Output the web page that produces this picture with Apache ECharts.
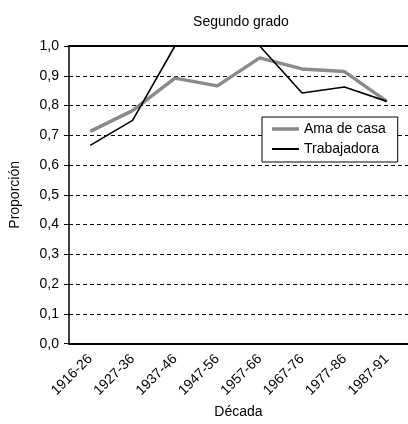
<html>
<head>
<meta charset="utf-8" />
<script src='https://cdn.jsdelivr.net/npm/echarts@6/dist/echarts.min.js'></script>
<style type="text/css">
	html, body, #main {
	width: 100%;
	height: 100%;
	margin: 0;
	background: #fff;
}
</style>
</head>
<body>
	<div id='main'></div>
	<script>
		var decadas = ['1916-26', '1927-36', '1937-46', '1947-56', '1957-66', '1967-76', '1977-86', '1987-91'];
		var amaDeCasa = [0.713, 0.783, 0.892, 0.866, 0.960, 0.923, 0.914, 0.814];
		var trabajadora = [0.666, 0.750, 1.0, 1.0, 1.0, 0.842, 0.862, 0.814];

		var font = 'Liberation Sans, Arial, sans-serif';
		var chart = echarts.init(document.getElementById('main'));

		// legend icons: invisible corner dots keep the box 27x14 so the bar keeps its thickness
		var thickIcon = 'path://M0,0h0.01v0.01h-0.01z M0,5.25h27v3.5h-27z M26.99,13.99h0.01v0.01h-0.01z';
		var thinIcon = 'path://M0,0h0.01v0.01h-0.01z M0,6.1h27v1.8h-27z M26.99,13.99h0.01v0.01h-0.01z';

		var option = {
			animation : false,
			textStyle : { fontFamily : font },
			title : {
				text : 'Segundo grado',
				left : 236,
				textAlign : 'center',
				top : 10,
				textStyle : { fontSize : 14, fontWeight : 'normal', color : '#000', fontFamily : font }
			},
			legend : {
				orient : 'vertical',
				left : 262,
				top : 117,
				width : 139,
				padding : [5, 12, 6, 10],
				itemGap : 6,
				itemWidth : 27,
				itemHeight : 14,
				borderColor : '#000',
				borderWidth : 1,
				borderRadius : 0,
				backgroundColor : '#fff',
				textStyle : { fontSize : 14, color : '#000', fontFamily : font },
				data : [
					{ name : 'Ama de casa', icon : thickIcon },
					{ name : 'Trabajadora', icon : thinIcon }
				]
			},
			grid : {
				left : 68,
				top : 46,
				width : 344,
				height : 299
			},
			xAxis : [ {
				type : 'category',
				data : decadas,
				boundaryGap : true,
				name : 'Década',
				nameLocation : 'middle',
				nameGap : 58,
				nameTextStyle : { fontSize : 14, color : '#000' },
				axisLine : { lineStyle : { color : '#000', width : 2 } },
				axisTick : { interval : 0, length : 5, lineStyle : { color : '#000', width : 1 } },
				axisLabel : { interval : 0, rotate : 45, fontSize : 14, color : '#000', margin : 13 }
			}, {
				type : 'category',
				position : 'top',
				data : decadas,
				axisLine : { lineStyle : { color : '#000', width : 2 } },
				axisTick : { show : false },
				axisLabel : { show : false }
			} ],
			yAxis : {
				type : 'value',
				min : 0,
				max : 1,
				interval : 0.1,
				name : 'Proporción',
				nameLocation : 'middle',
				nameRotate : 90,
				nameGap : 47,
				nameTextStyle : { fontSize : 14, color : '#000' },
				axisLine : { show : true, lineStyle : { color : '#000', width : 1.5 } },
				axisTick : { show : true, length : 5, lineStyle : { color : '#000' } },
				axisLabel : {
					fontSize : 14,
					color : '#000',
					margin : 10,
					formatter : function(v) { return v.toFixed(1).replace('.', ','); }
				},
				splitLine : { show : true, lineStyle : { color : '#000', type : [4, 3], width : 1 } }
			},
			series : [ {
				name : 'Ama de casa',
				type : 'line',
				data : amaDeCasa,
				symbol : 'none',
				lineStyle : { color : '#8a8a8a', width : 3.5 },
				itemStyle : { color : '#8a8a8a' },
				z : 2
			}, {
				name : 'Trabajadora',
				type : 'line',
				data : trabajadora,
				symbol : 'none',
				lineStyle : { color : '#000', width : 1.6 },
				itemStyle : { color : '#000' },
				z : 3
			} ]
		};

		chart.setOption(option);

		window.onresize = function() {
			chart.resize();
		}
	</script>
</body>
</html>
